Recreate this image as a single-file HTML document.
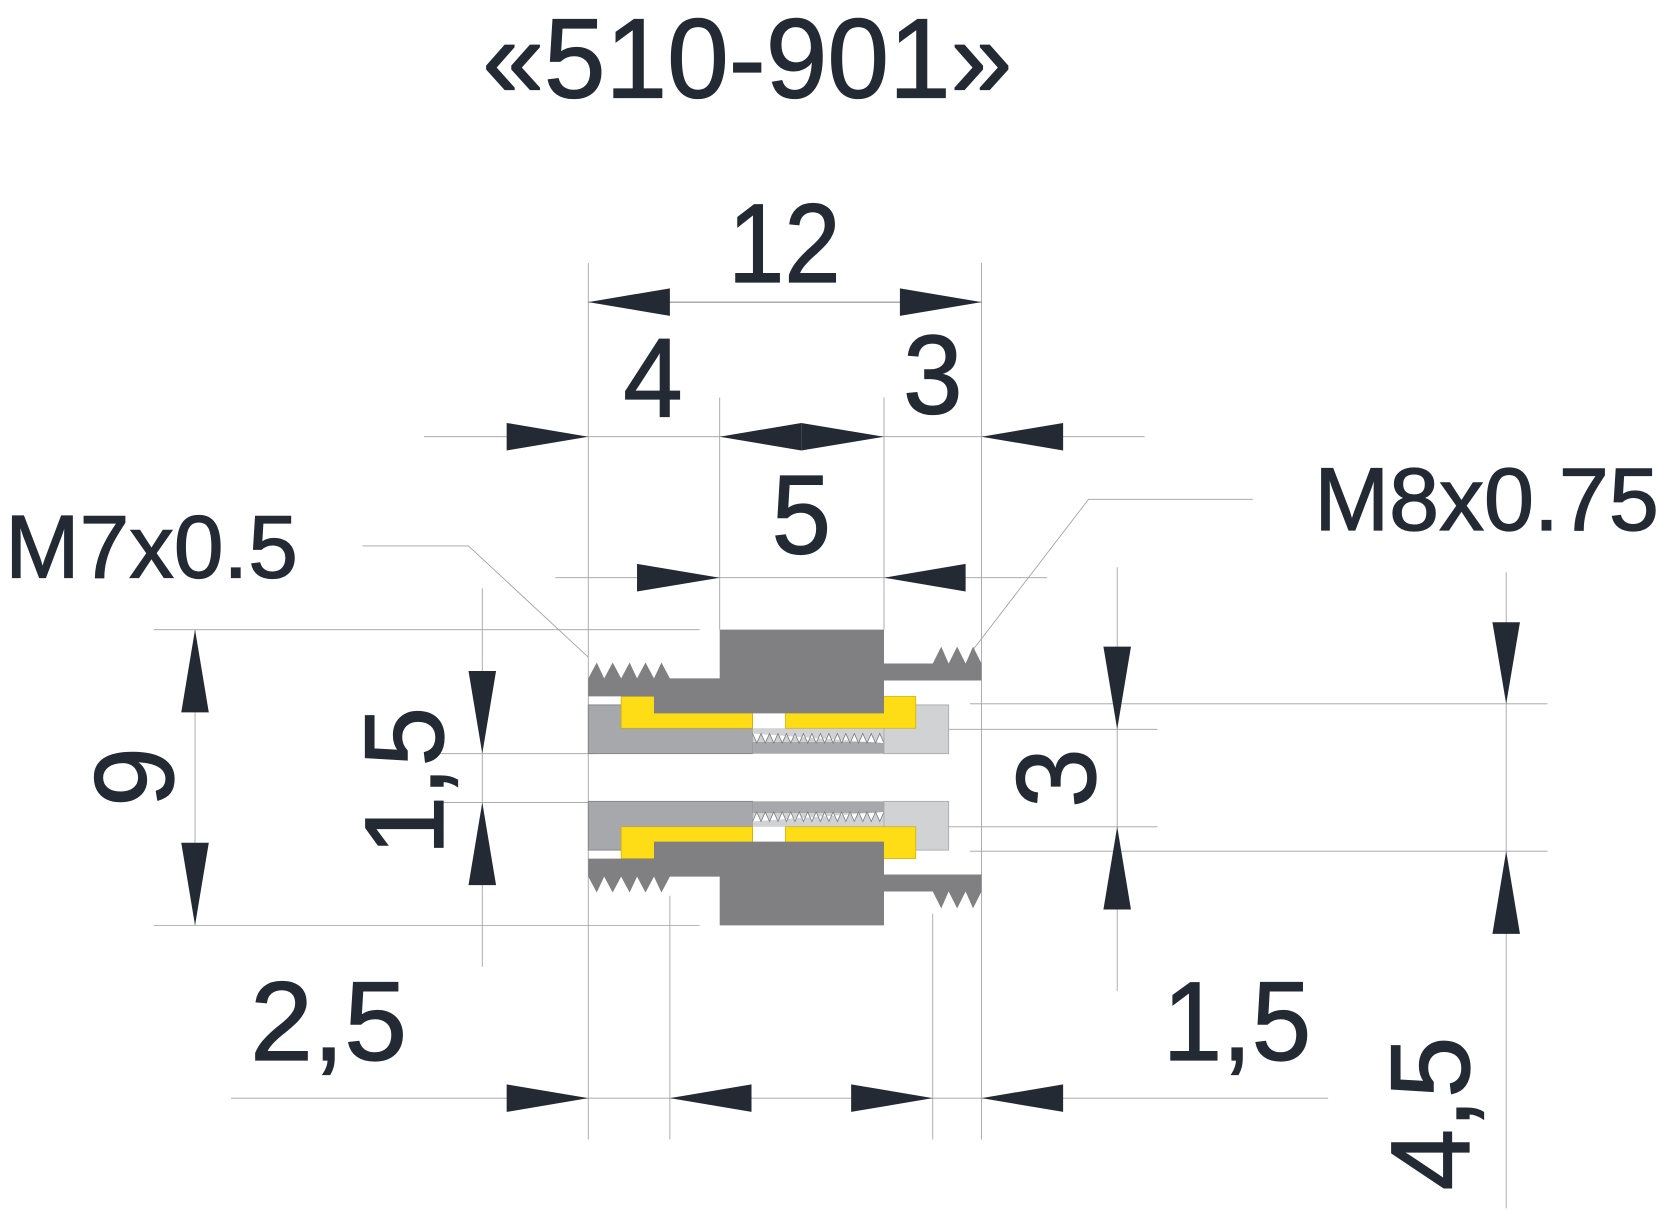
<!DOCTYPE html>
<html><head><meta charset="utf-8"><style>html,body{margin:0;padding:0;background:#fff}svg{display:block}</style></head>
<body>
<svg width="1662" height="1210" viewBox="0 0 1568 1141.5" xmlns="http://www.w3.org/2000/svg" font-family="Liberation Sans, Arial, sans-serif" fill="#232a33">
<rect x="0" y="0" width="1568" height="1142" fill="#fff"/>
<g stroke="#a0a0a0" stroke-width="0.8" fill="none">
<line x1="555" y1="248" x2="555" y2="1075"/>
<line x1="926" y1="248" x2="926" y2="1075"/>
<line x1="555" y1="285" x2="926" y2="285" stroke="#555"/>
<line x1="400" y1="412" x2="1080" y2="412"/>
<line x1="679" y1="375" x2="679" y2="594"/>
<line x1="834" y1="375" x2="834" y2="594"/>
<line x1="524" y1="545" x2="988" y2="545"/>
<polyline points="342,515 442,515 555,620"/>
<polyline points="1182,471 1027,471 918,613"/>
<line x1="184" y1="594" x2="184" y2="873"/>
<line x1="145" y1="594" x2="660" y2="594"/>
<line x1="145" y1="873" x2="660" y2="873"/>
<line x1="455" y1="555" x2="455" y2="912"/>
<line x1="415" y1="711" x2="560" y2="711"/>
<line x1="415" y1="757" x2="560" y2="757"/>
<line x1="1054" y1="535" x2="1054" y2="935"/>
<line x1="895" y1="688" x2="1092" y2="688"/>
<line x1="895" y1="780" x2="1092" y2="780"/>
<line x1="1421" y1="540" x2="1421" y2="1140"/>
<line x1="915" y1="664" x2="1460" y2="664"/>
<line x1="915" y1="803" x2="1460" y2="803"/>
<line x1="218" y1="1036" x2="1253" y2="1036"/>
<line x1="632" y1="845" x2="632" y2="1075"/>
<line x1="880" y1="862" x2="880" y2="1075"/>
</g>
<g>
<polygon points="555,285 632,272 632,298"/>
<polygon points="926,285 849,272 849,298"/>
<polygon points="555,412 478,399 478,425"/>
<polygon points="679,412 756,399 756,425"/>
<polygon points="834,412 756,399 756,425"/>
<polygon points="926,412 1003,399 1003,425"/>
<polygon points="679,545 601,532 601,558"/>
<polygon points="834,545 911,532 911,558"/>
<polygon points="184,594 171,672 197,672"/>
<polygon points="184,873 171,795 197,795"/>
<polygon points="455,711 442,633 468,633"/>
<polygon points="455,757 442,835 468,835"/>
<polygon points="1054,688 1041,610 1067,610"/>
<polygon points="1054,780 1041,858 1067,858"/>
<polygon points="1421,664 1408,587 1434,587"/>
<polygon points="1421,803 1408,881 1434,881"/>
<polygon points="555,1036 478,1023 478,1049"/>
<polygon points="632,1036 709,1023 709,1049"/>
<polygon points="880,1036 803,1023 803,1049"/>
<polygon points="926,1036 1003,1023 1003,1049"/>
</g>
<g id="half">
<rect x="555" y="665" width="155" height="46" fill="#a7a8ab" stroke="#808083" stroke-width="0.8"/>
<rect x="710" y="687" width="124" height="24" fill="#d1d2d4"/>
<rect x="710" y="700" width="124" height="11" fill="#a7a8ab"/>
<polyline points="710,692 714,701 718,692 722,701 726,692 730,701 734,692 738,701 742,692 746,701 750,692 754,701 758,692 762,701 766,692 770,701 774,692 778,701 782,692 786,701 790,692 794,701 798,692 802,701 806,692 810,701 814,692 818,701 822,692 826,701 830,692 834,701" fill="#fff" stroke="#808083" stroke-width="0.8"/>
<rect x="834" y="665" width="61" height="46" fill="#d1d2d4" stroke="#a7a8ab" stroke-width="0.8"/>
<rect x="586" y="657" width="124" height="30" fill="#fedd17" stroke="#c9a800" stroke-width="0.6"/>
<rect x="741" y="657" width="123" height="30" fill="#fedd17" stroke="#c9a800" stroke-width="0.6"/>
<polygon fill="#808083" points="555,657 555,640 563,625 570,640 578,625 586,640 594,625 601,640 609,625 617,640 624,625 632,640 679,640 679,594 834,594 834,626 880,626 888,610 895,626 903,610 911,626 918,610 926,626 926,642 834,642 834,673 617,673 617,657"/>
</g>
<use href="#half" transform="translate(0,1467) scale(1,-1)"/>
<g font-size="106" stroke="#232a33" stroke-width="1.2">
<text x="455" y="92" font-size="107" textLength="500" lengthAdjust="spacingAndGlyphs">«510-901»</text>
<text x="687" y="266" textLength="106" lengthAdjust="spacingAndGlyphs">12</text>
<text x="588" y="393" textLength="56" lengthAdjust="spacingAndGlyphs">4</text>
<text x="852" y="390" textLength="56" lengthAdjust="spacingAndGlyphs">3</text>
<text x="728" y="522" textLength="56" lengthAdjust="spacingAndGlyphs">5</text>
<text x="5" y="545" font-size="84" textLength="276" lengthAdjust="spacingAndGlyphs">M7x0.5</text>
<text x="1240" y="500" font-size="84" textLength="325" lengthAdjust="spacingAndGlyphs">M8x0.75</text>
<text x="236" y="1000" textLength="148" lengthAdjust="spacingAndGlyphs">2,5</text>
<text x="1097" y="1000" textLength="140" lengthAdjust="spacingAndGlyphs">1,5</text>
<text transform="translate(163,761) rotate(-90)" textLength="56" lengthAdjust="spacingAndGlyphs">9</text>
<text transform="translate(418,807) rotate(-90)" textLength="140" lengthAdjust="spacingAndGlyphs">1,5</text>
<text transform="translate(1033,762) rotate(-90)" textLength="56" lengthAdjust="spacingAndGlyphs">3</text>
<text transform="translate(1386,1123) rotate(-90)" textLength="145" lengthAdjust="spacingAndGlyphs">4,5</text>
</g>
</svg>
</body></html>
